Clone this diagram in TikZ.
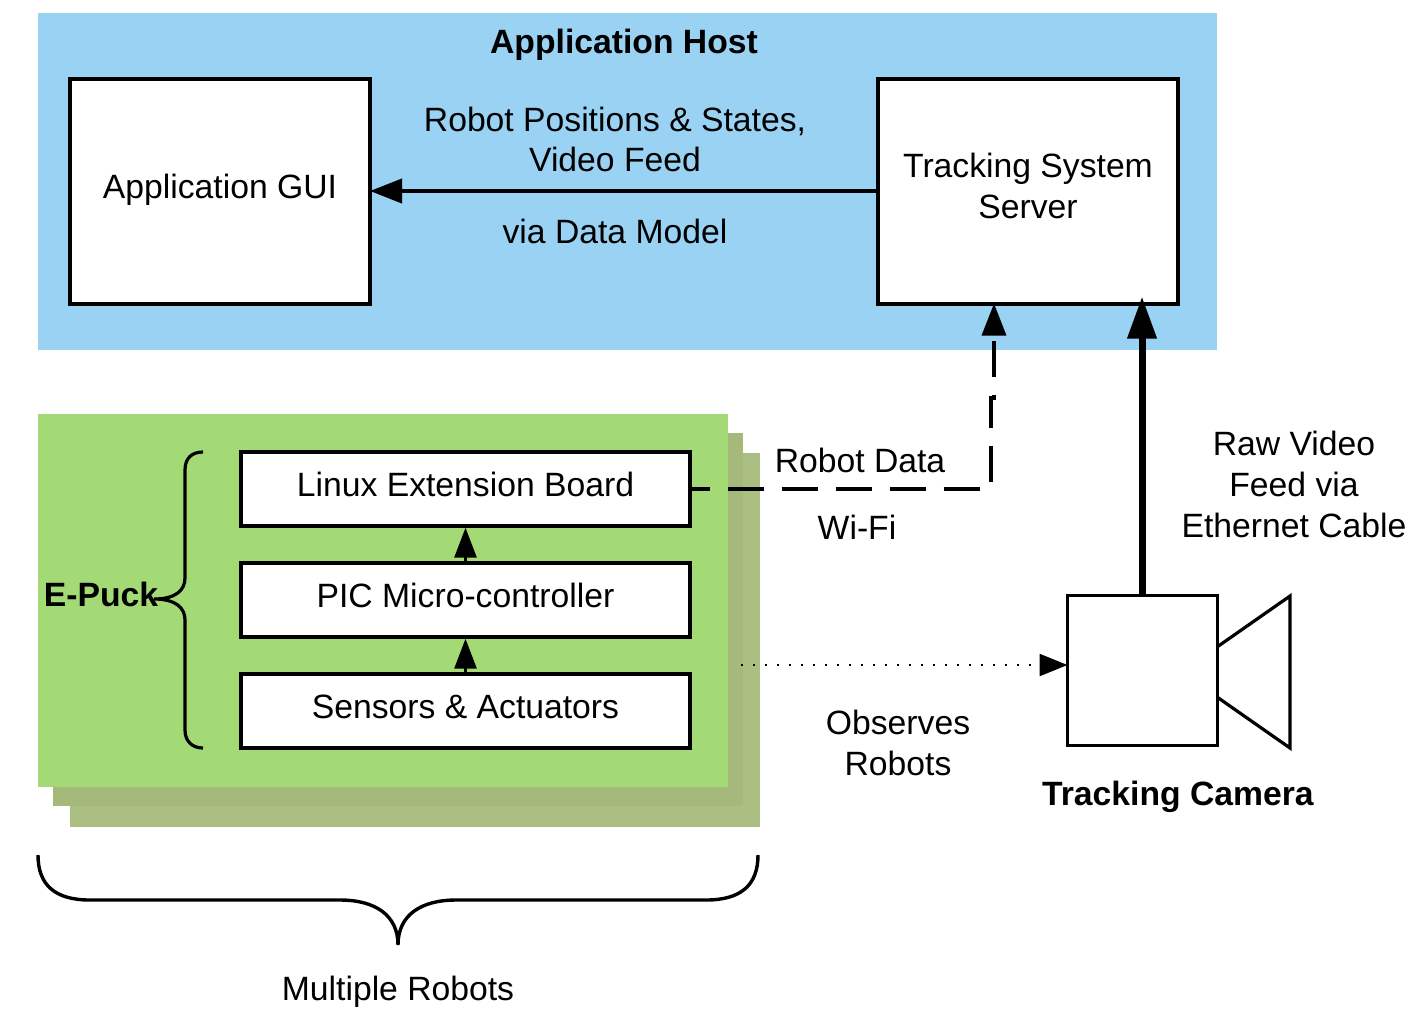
\documentclass[tikz,border=0pt]{standalone}
\usepackage{fontspec}
\setmainfont{Liberation Sans}
\usetikzlibrary{arrows.meta}
\definecolor{hostblue}{HTML}{9AD2F4}
\definecolor{puckgreen}{HTML}{A4DA76}
\definecolor{puckmid}{HTML}{A5B97A}
\definecolor{puckback}{HTML}{ACBF82}
\tikzstyle{area} = [rectangle, inner sep=0pt, outer sep=0pt, anchor=north west]
\tikzstyle{bigbox} = [rectangle, minimum width=150pt, minimum height=112.5pt, text centered, draw=black, fill=white, line width=2pt]
\tikzstyle{layer} = [rectangle, minimum width=224.5pt, minimum height=37pt, text height=11.5pt, text depth=4.5pt, draw=black, fill=white, line width=1.7pt]
\tikzstyle{label} = [inner sep=0pt, align=center]
\tikzstyle{line} = [inner sep=0pt, anchor=base]
\tikzstyle{arrow} = [-{Triangle[length=16pt,width=12pt]}, line width=2pt, shorten >=-1pt]
\tikzstyle{smallarrow} = [-{Triangle[length=15pt,width=11pt]}, line width=1.5pt]

\begin{document}
\begin{tikzpicture}[x=0.5pt,y=-0.5pt,node font=\fontsize{16.85}{20.3}\selectfont,node distance=55.5pt]
\useasboundingbox (0,0) rectangle (1412,1019);

% backgrounds
\node (host) [area, fill=hostblue, minimum width=589.5pt, minimum height=168.5pt] at (38,13) {};
\node (backb) [area, fill=puckback, minimum width=345pt, minimum height=187pt] at (70,453) {};
\node (backa) [area, fill=puckmid, minimum width=345pt, minimum height=186.5pt] at (53,433) {};
\node (puck) [area, fill=puckgreen, minimum width=345pt, minimum height=186.5pt] at (38,414) {};

% boxes
\node (gui) [bigbox, text height=11.5pt, text depth=4.5pt] at (220,191) {Application GUI};
\node (server) [bigbox, align=center, text depth=5.5pt] at (1028,191) {Tracking System\\Server};
\node (linux) [layer] at (465.5,489) {Linux Extension Board};
\node (pic) [layer, below of=linux] {PIC Micro-controller};
\node (sensors) [layer, below of=pic] {Sensors \& Actuators};
\draw [line width=1.6pt] (1217,647) -- (1290,596) -- (1290,748) -- (1217,697);
\node (camera) [rectangle, minimum width=75pt, minimum height=75pt, draw=black, fill=white, line width=1.5pt] at (1142,670) {};

% labels
\node (hosttext) [line] at (624,53.5) {\textbf{Application Host}};
\node (statetext) [label] at (615,139.5) {Robot Positions \& States,\\Video Feed};
\node (modeltext) [line] at (615,243) {via Data Model};
\node (datatext) [line] at (860,472) {Robot Data};
\node (wifitext) [line] at (857,539) {Wi-Fi};
\node (rawtext) [label] at (1294,484.5) {Raw Video\\Feed via\\Ethernet Cable};
\node (observetext) [label] at (898,743) {Observes\\Robots};
\node (cameratext) [line] at (1178,805.5) {\textbf{Tracking Camera}};
\node (pucktext) [line] at (101,606.5) {\textbf{E-Puck}};
\node (multitext) [line] at (398,1000.5) {Multiple Robots};

% braces
\draw [line width=1.6pt] (203,452) .. controls (192,452) and (185,458) .. (185,470) -- (185,578) .. controls (185,590) and (176,599) .. (154,599) .. controls (176,599) and (185,608) .. (185,620) -- (185,730) .. controls (185,741) and (192,748) .. (203,748);
\draw [line width=1.7pt] (38,855) .. controls (38,885) and (55,900) .. (90,900) -- (340,900) .. controls (375,900) and (398,915) .. (398,945) .. controls (398,915) and (421,900) .. (456,900) -- (706,900) .. controls (741,900) and (758,885) .. (758,855);

% connectors
\coordinate (wifia) at (991,489);
\coordinate (wifib) at (991,398);
\coordinate (wific) at (994,398);
\coordinate (observe) at (741,665);
\draw [arrow] (server.west) -- (gui.east);
\draw [smallarrow] (sensors.north) -- (pic.south);
\draw [smallarrow] (pic.north) -- (linux.south);
\draw [arrow, line width=1.7pt, dash pattern=on 18pt off 9pt, dash phase=9pt] (linux.east) -- (wifia) -- (wifib) -- (wific) -- (wific |- server.south);
\draw [-{Triangle[length=21pt,width=14pt]}, line width=3.5pt, shorten >=-4.5pt] (camera.north) -- (camera.north |- server.south);
\draw [-{Triangle[length=14pt,width=11pt]}, line width=1.2pt, dash pattern=on 1.2pt off 4.8pt, shorten >=-1pt] (observe) -- (observe -| camera.west);

\end{tikzpicture}
\end{document}
